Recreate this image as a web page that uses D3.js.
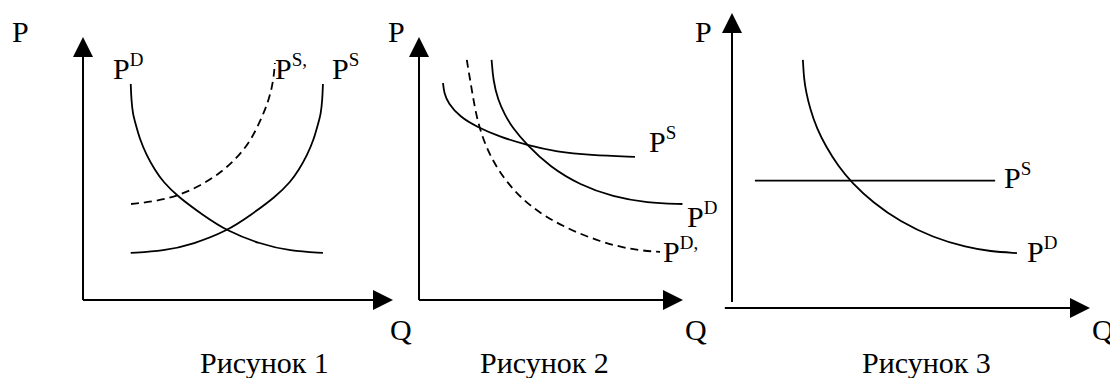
<!DOCTYPE html>
<html>
<head>
<meta charset="utf-8">
<script src="https://cdn.jsdelivr.net/npm/d3@7"></script>
<style>
  body { margin: 0; background: #fff; }
  svg { display: block; }
  text { font-family: "Liberation Serif", "Times New Roman", serif; font-size: 30px; fill: #000; }
</style>
</head>
<body>
<div id="chart"></div>
<script>
// captions and axis names
var captions = ['Рисунок 1', 'Рисунок 2', 'Рисунок 3'];
var axisNames = ['P', 'Q'];

// curves as [Q, P] pairs (axes run 0..10)
var fig1Demand = [[1.54, 8.21], [1.56, 7.60], [1.61, 7.07], [1.68, 6.77], [1.84, 6.08],
    [2.05, 5.51], [2.32, 4.94], [2.58, 4.50], [3.06, 3.93], [3.87, 3.23], [4.65, 2.62],
    [5.71, 2.13], [6.68, 1.86], [7.74, 1.79]];
var fig1Supply = [[1.54, 1.79], [2.60, 1.86], [3.57, 2.13], [4.64, 2.62], [5.41, 3.23],
    [6.22, 3.93], [6.70, 4.50], [6.96, 4.94], [7.23, 5.51], [7.44, 6.08], [7.60, 6.77],
    [7.67, 7.07], [7.72, 7.60], [7.74, 8.21]];
var fig1SupplyNew = [[1.55, 3.65], [2.26, 3.74], [2.99, 3.93], [3.74, 4.31], [4.42, 4.82],
    [4.96, 5.39], [5.39, 6.02], [5.71, 6.78], [5.98, 7.54], [6.14, 8.30], [6.19, 9.01]];

var fig2Supply = [[0.91, 8.25], [0.95, 7.87], [1.10, 7.49], [1.55, 6.96], [2.20, 6.58],
    [3.07, 6.20], [4.09, 5.89], [5.23, 5.63], [6.48, 5.51], [8.18, 5.44]];
var fig2Demand = [[2.75, 9.13], [2.81, 8.35], [2.99, 7.60], [3.26, 7.03], [3.52, 6.58],
    [4.09, 5.89], [4.96, 5.06], [6.10, 4.37], [7.35, 3.92], [8.64, 3.69], [9.98, 3.65]];
var fig2DemandNew = [[1.81, 9.13], [2.00, 7.98], [2.23, 6.65], [2.69, 5.44], [3.33, 4.45],
    [4.20, 3.54], [5.45, 2.78], [6.86, 2.21], [8.11, 1.90], [9.13, 1.83]];

var fig3Supply = [[0.64, 4.32], [7.35, 4.32]];
var fig3Demand = [[1.98, 8.41], [2.01, 7.77], [2.07, 7.32], [2.18, 6.75], [2.37, 6.08],
    [2.63, 5.46], [2.96, 4.82], [3.35, 4.24], [3.94, 3.57], [4.69, 2.93], [5.61, 2.39],
    [6.56, 2.05], [7.21, 1.92], [7.96, 1.86]];

// layout of each panel (pixels)
var panels = [
  {xRange: [83, 393], yRange: [300, 37], yAxisFrom: 0, xAxisFrom: 0,
   pLabel: [12, 42], qLabel: [390, 340], caption: [200, 373],
   curves: [
     {data: fig1Demand, dashed: false},
     {data: fig1Supply, dashed: false},
     {data: fig1SupplyNew, dashed: true}
   ],
   labels: [
     {sup: 'D', x: 113, y: 79},
     {sup: 'S,', x: 275, y: 79},
     {sup: 'S', x: 332, y: 79}
   ]},
  {xRange: [419, 683], yRange: [300, 37], yAxisFrom: 0, xAxisFrom: 0,
   pLabel: [388, 42], qLabel: [685, 340], caption: [480, 373],
   curves: [
     {data: fig2Supply, dashed: false},
     {data: fig2Demand, dashed: false},
     {data: fig2DemandNew, dashed: true}
   ],
   labels: [
     {sup: 'S', x: 649, y: 152},
     {sup: 'D', x: 687, y: 227},
     {sup: 'D,', x: 663, y: 262}
   ]},
  {xRange: [732, 1090], yRange: [308, 13], yAxisFrom: 0.2, xAxisFrom: -0.2,
   pLabel: [695, 42], qLabel: [1092, 340], caption: [862, 373],
   curves: [
     {data: fig3Supply, dashed: false},
     {data: fig3Demand, dashed: false}
   ],
   labels: [
     {sup: 'S', x: 1004, y: 188},
     {sup: 'D', x: 1027, y: 262}
   ]}
];

var svg = d3.select('#chart').append('svg')
    .attr('width', 1110)
    .attr('height', 378);

svg.append('rect').attr('width', 1110).attr('height', 378).attr('fill', '#fff');

panels.forEach(function(p, i) {
  var x = d3.scaleLinear().domain([0, 10]).range(p.xRange);
  var y = d3.scaleLinear().domain([0, 10]).range(p.yRange);
  var g = svg.append('g');
  var head = 20, half = 10;

  // vertical axis with arrow
  var yTip = y(10);
  g.append('line')
      .attr('x1', x(0)).attr('x2', x(0))
      .attr('y1', y(p.yAxisFrom)).attr('y2', yTip + head - 1)
      .attr('stroke', '#000').attr('stroke-width', 2);
  g.append('path')
      .attr('d', 'M' + x(0) + ',' + yTip + 'L' + (x(0) - half) + ',' + (yTip + head) +
            'L' + (x(0) + half) + ',' + (yTip + head) + 'Z')
      .attr('fill', '#000');

  // horizontal axis with arrow
  var xTip = x(10);
  g.append('line')
      .attr('x1', x(p.xAxisFrom)).attr('x2', xTip - head + 1)
      .attr('y1', y(0)).attr('y2', y(0))
      .attr('stroke', '#000').attr('stroke-width', 2);
  g.append('path')
      .attr('d', 'M' + xTip + ',' + y(0) + 'L' + (xTip - head) + ',' + (y(0) - half) +
            'L' + (xTip - head) + ',' + (y(0) + half) + 'Z')
      .attr('fill', '#000');

  // curves (smoothed through the read points)
  var line = d3.line()
      .x(function(d) { return x(d[0]); })
      .y(function(d) { return y(d[1]); })
      .curve(d3.curveBasis);

  p.curves.forEach(function(c) {
    g.append('path')
        .attr('d', line(c.data))
        .attr('fill', 'none')
        .attr('stroke', '#000')
        .attr('stroke-width', 1.8)
        .attr('stroke-dasharray', c.dashed ? '8,5' : null);
  });

  // curve labels: P with superscript
  p.labels.forEach(function(l) {
    var t = g.append('text').attr('x', l.x).attr('y', l.y);
    t.append('tspan').text('P');
    t.append('tspan').attr('dy', -13).style('font-size', '19px').text(l.sup);
  });

  g.append('text').attr('x', p.pLabel[0]).attr('y', p.pLabel[1]).text(axisNames[0]);
  g.append('text').attr('x', p.qLabel[0]).attr('y', p.qLabel[1]).text(axisNames[1]);
  g.append('text').attr('x', p.caption[0]).attr('y', p.caption[1]).text(captions[i]);
});
</script>
</body>
</html>
